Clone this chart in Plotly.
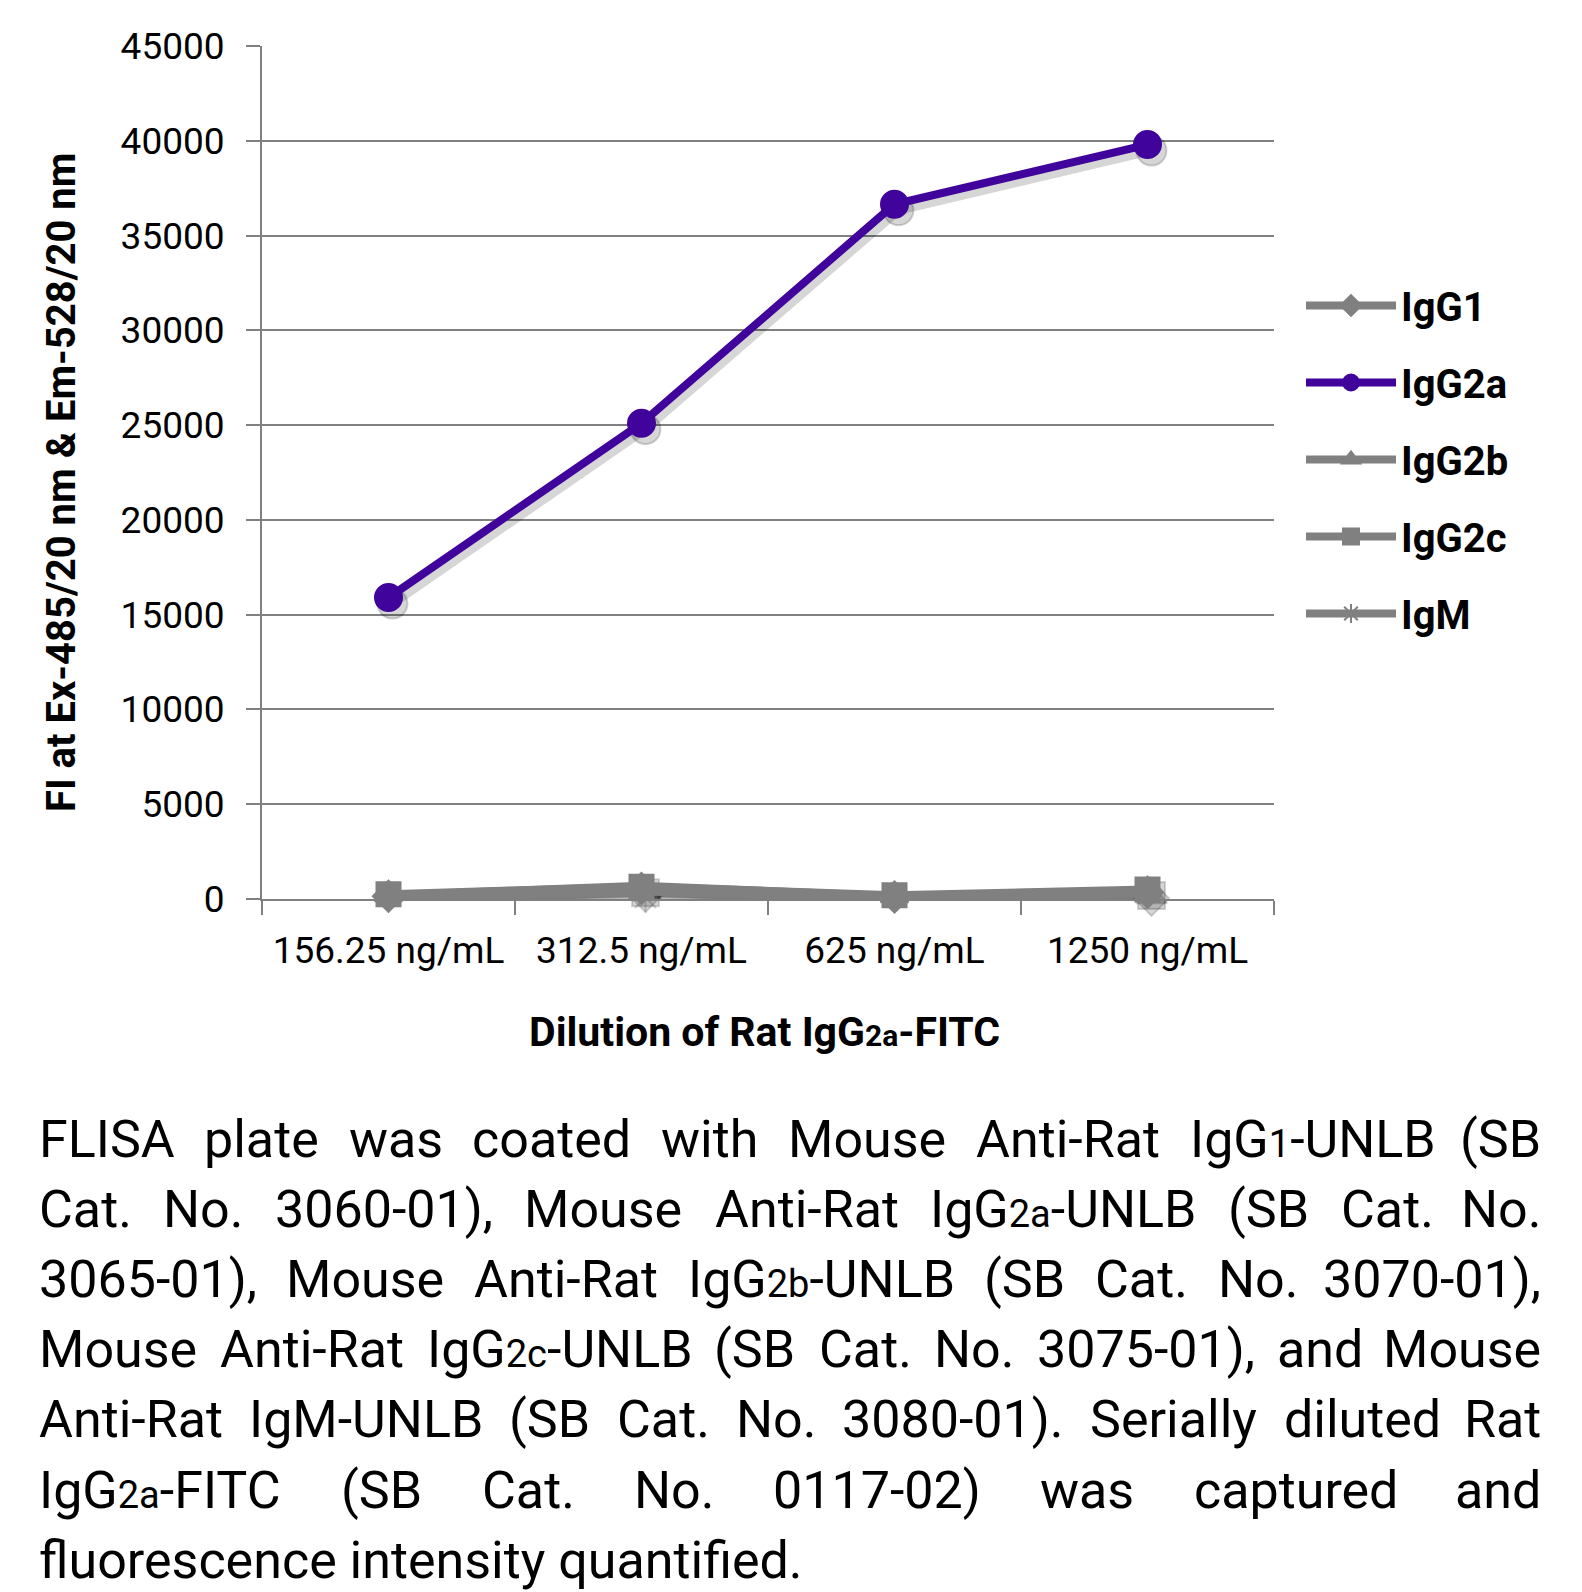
import plotly.graph_objects as go

categories = ["156.25 ng/mL", "312.5 ng/mL", "625 ng/mL", "1250 ng/mL"]
series_names = ["IgG1", "IgG2a", "IgG2b", "IgG2c", "IgM"]
igg1 = [150, 550, 100, 350]
igg2a = [15900, 25100, 36650, 39800]
igg2b = [200, 700, 150, 450]
igg2c = [250, 650, 200, 500]
igm = [100, 400, 80, 300]
y_ticks = [0, 5000, 10000, 15000, 20000, 25000, 30000, 35000, 40000, 45000]

GRAY = "#808080"
PURPLE = "#40039B"
SHADOW = "rgba(0,0,0,0.16)"
W, H = 1582, 1592
OFF = 8  # default body margin of the html page
L, R, T, B = 262, 1274, 46, 899
YMAX = 45000
XR = [-0.5, 3.5]

def px2x(px):
    return (px - L) / (R - L)

def px2y(py):
    return (B - py) / (B - T)

# shadow offset in pixels -> axis-range shift
SDX, SDY = 4, 6
dx = SDX * (XR[1] - XR[0]) / (R - L)
dy = SDY * YMAX / (B - T)

styles = [
    (igg1, GRAY, "diamond", 24),
    (igg2a, PURPLE, "circle", 27),
    (igg2b, GRAY, "triangle-up", 24),
    (igg2c, GRAY, "square", 24),
    (igm, GRAY, "asterisk-open", 22),
]

fig = go.Figure()
# drop shadows (drawn on an overlaid, slightly shifted pair of hidden axes)
for name, (vals, col, sym, sz) in zip(series_names, styles):
    fig.add_trace(go.Scatter(
        x=categories, y=vals, mode="lines+markers", showlegend=False,
        xaxis="x2", yaxis="y2", cliponaxis=False,
        line=dict(color=SHADOW, width=9),
        marker=dict(symbol=sym, size=sz + 3, color=SHADOW, line=dict(color=SHADOW, width=2)),
    ))
# main series
for name, (vals, col, sym, sz) in zip(series_names, styles):
    fig.add_trace(go.Scatter(
        x=categories, y=vals, name=name, mode="lines+markers",
        legendgroup=name, xaxis="x3", yaxis="y3", cliponaxis=False,
        line=dict(color=col, width=8),
        marker=dict(symbol=sym, size=sz, color=col, line=dict(color=col, width=2)),
    ))
# invisible trace on the main axes so they render ticks/grid
fig.add_trace(go.Scatter(x=categories, y=[None] * 4, showlegend=False, hoverinfo="skip"))

hidden = dict(visible=False, showgrid=False, zeroline=False, fixedrange=True)
fig.update_layout(
    width=W - OFF, height=H - OFF,
    margin=dict(l=L - OFF, r=W - R, t=T - OFF, b=H - B, pad=0, autoexpand=False),
    paper_bgcolor="white", plot_bgcolor="white",
    font=dict(family="Roboto", size=37, color="black"),
    showlegend=True,
    legend=dict(
        x=px2x(1301), y=px2y(273), xanchor="left", yanchor="top",
        font=dict(family="Roboto", size=40, color="black", weight="bold"),
        tracegroupgap=22, itemwidth=90, bgcolor="rgba(0,0,0,0)",
    ),
    hovermode=False,
    xaxis2=dict(type="category", overlaying="x", range=[XR[0] - dx, XR[1] - dx],
                categoryarray=categories, **hidden),
    yaxis2=dict(overlaying="y", range=[dy, YMAX + dy], **hidden),
    xaxis3=dict(type="category", overlaying="x", range=XR, categoryarray=categories, **hidden),
    yaxis3=dict(overlaying="y", range=[0, YMAX], **hidden),
)
fig.update_layout(xaxis=dict(
    type="category", categoryarray=categories, tickson="boundaries", ticks="outside", ticklen=14,
    tickwidth=2, tickcolor=GRAY, showline=True, linecolor=GRAY, linewidth=2,
    showgrid=False, tickfont=dict(family="Roboto", size=37, color="black"),
    range=XR, ticklabelstandoff=18,
))
fig.update_layout(yaxis=dict(
    range=[0, YMAX], tickvals=y_ticks, ticktext=[str(v) for v in y_ticks],
    ticks="outside", ticklen=14, tickwidth=2, tickcolor=GRAY,
    showline=True, linecolor=GRAY, linewidth=2,
    showgrid=True, gridcolor=GRAY, gridwidth=2, zeroline=False,
    tickfont=dict(family="Roboto", size=37, color="black"),
    ticklabelstandoff=14,
))

ann = []
ann.append(dict(x=px2x(61), y=px2y(483), xref="paper", yref="paper",
                text="<b>FI at Ex-485/20 nm &amp; Em-528/20 nm</b>", textangle=-90,
                showarrow=False, xanchor="center", yanchor="middle",
                font=dict(family="Roboto", size=40, color="black")))
ann.append(dict(x=px2x(764), y=px2y(1032), xref="paper", yref="paper",
                text="<b>Dilution of Rat IgG<span style='font-size:30px'>2a</span>-FITC</b>",
                showarrow=False, xanchor="center", yanchor="middle",
                font=dict(family="Roboto", size=41, color="black")))

# ---- caption (justified paragraph) ----
CAP_SIZE = 52
SUB_SIZE = 38
ADV = {" ": .248, "(": .341, ")": .348, ",": .192, "-": .270, ".": .257, "/": .402,
       "A": .652, "B": .623, "C": .651, "D": .656, "E": .569, "F": .553, "G": .681,
       "I": .272, "L": .538, "M": .875, "N": .697, "R": .616, "S": .594, "T": .597,
       "U": .648, "a": .544, "b": .561, "c": .523, "d": .564, "e": .530, "f": .347,
       "g": .561, "h": .551, "i": .243, "l": .243, "m": .876, "n": .552, "o": .570,
       "p": .561, "q": .568, "r": .338, "s": .516, "t": .327, "u": .551, "w": .748,
       "y": .473, "z": .496}

def seg_width(s, size):
    return sum(ADV.get(ch, .5615 if ch.isdigit() else .55) for ch in s) * size

def plain(s):
    return [(s, False)]

def ig(sub, rest):
    return [("IgG", False), (sub, True), (rest, False)]

caption_lines = [
    [plain("FLISA"), plain("plate"), plain("was"), plain("coated"), plain("with"),
     plain("Mouse"), plain("Anti-Rat"), ig("1", "-UNLB"), plain("(SB")],
    [plain("Cat."), plain("No."), plain("3060-01),"), plain("Mouse"), plain("Anti-Rat"),
     ig("2a", "-UNLB"), plain("(SB"), plain("Cat."), plain("No.")],
    [plain("3065-01),"), plain("Mouse"), plain("Anti-Rat"), ig("2b", "-UNLB"),
     plain("(SB"), plain("Cat."), plain("No."), plain("3070-01),")],
    [plain("Mouse"), plain("Anti-Rat"), ig("2c", "-UNLB"), plain("(SB"),
     plain("Cat."), plain("No."), plain("3075-01),"), plain("and"), plain("Mouse")],
    [plain("Anti-Rat"), plain("IgM-UNLB"), plain("(SB"), plain("Cat."), plain("No."),
     plain("3080-01)."), plain("Serially"), plain("diluted"), plain("Rat")],
    [ig("2a", "-FITC"), plain("(SB"), plain("Cat."), plain("No."),
     plain("0117-02)"), plain("was"), plain("captured"), plain("and")],
]
last_line = "fluorescence intensity quantified."

LEFT_EDGE, RIGHT_EDGE = 36.5, 1543
BASE0, LINE_STEP = 1157, 70.25

def word_html(pieces):
    out = ""
    for s, small in pieces:
        out += ("<span style='font-size:%dpx'>%s</span>" % (SUB_SIZE, s)) if small else s
    return out

def word_w(pieces):
    return sum(seg_width(s, SUB_SIZE if small else CAP_SIZE) for s, small in pieces)

def cap_ann(text, xpx, ypx, anchor):
    return dict(x=px2x(xpx), y=px2y(ypx), xref="paper", yref="paper", text=text,
                showarrow=False, xanchor=anchor, yanchor="middle",
                font=dict(family="Roboto", size=CAP_SIZE, color="black"))

for i, words in enumerate(caption_lines):
    ypx = BASE0 + LINE_STEP * i - 18
    widths = [word_w(p) for p in words]
    gap = (RIGHT_EDGE - LEFT_EDGE - sum(widths)) / (len(words) - 1)
    xcur = LEFT_EDGE
    for j, (p, wd) in enumerate(zip(words, widths)):
        if j == len(words) - 1:
            ann.append(cap_ann(word_html(p), RIGHT_EDGE, ypx, "right"))
        else:
            ann.append(cap_ann(word_html(p), xcur, ypx, "left"))
        xcur += wd + gap
ann.append(cap_ann(last_line, LEFT_EDGE, BASE0 + LINE_STEP * 6 - 18, "left"))

fig.update_layout(annotations=ann)

fig.write_html("out.html")
